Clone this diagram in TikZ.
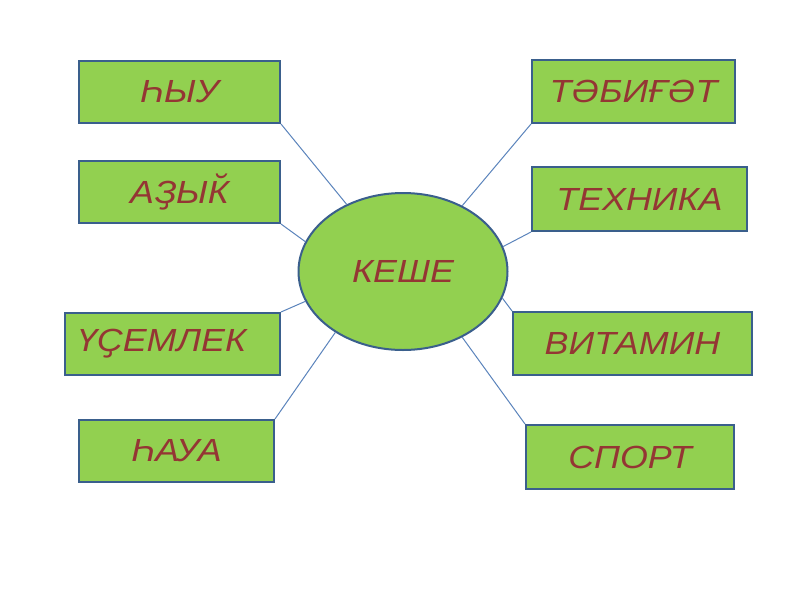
\documentclass[tikz,border=0pt]{standalone}
\usepackage{fontspec}
\setmainfont{Liberation Sans}[FakeStretch=1.12]
\usetikzlibrary{shapes.geometric}
\definecolor{leaf}{HTML}{92D050}
\definecolor{frame}{HTML}{3A5F8C}
\definecolor{wire}{HTML}{5B84BC}
\definecolor{wine}{HTML}{943634}
\tikzset{
  word/.style={draw=frame, line width=2pt, fill=leaf, text=wine,
    font=\fontsize{32}{36}\selectfont\itshape, inner sep=0pt},
  wire/.style={draw=wire, line width=1pt}
}
\begin{document}
\begin{tikzpicture}[x=1pt, y=-1pt]
    \fill[white] (0,0) rectangle (800,600);
    \useasboundingbox (0,0) rectangle (800,600);
    % Centre
    \node[word, ellipse, minimum width=209pt, minimum height=157pt] (keshe) at (403,271.5) {КЕШЕ};
    % Left boxes
    \node[word, minimum width=201pt, minimum height=62pt] (hyu) at (179.5,92) {ҺЫУ};
    \node[word, minimum width=201pt, minimum height=62pt] (azyk) at (179.5,192) {АҘЫ\accent"02D8 К};
    \node[word, minimum height=62pt, text width=191pt, inner xsep=12pt, align=left] (useml) at (172.5,344) {ҮҪЕМЛЕК};
    \node[word, minimum width=195pt, minimum height=62pt] (haua) at (176.5,451) {ҺАУА};
    % Right boxes
    \node[word, minimum width=203pt, minimum height=63pt] (tabigat) at (633.5,91.5) {ТӘБИҒӘТ};
    \node[word, minimum width=215pt, minimum height=64pt] (tehnika) at (639.5,199) {ТЕХНИКА};
    \node[word, minimum width=239pt, minimum height=63pt] (vitamin) at (632.5,343.5) {ВИТАМИН};
    \node[word, minimum width=208pt, minimum height=64pt] (sport) at (630,457) {СПОРТ};
    % Connectors
    \draw[wire] (hyu.south east) -- (keshe.130);
    \draw[wire] (azyk.south east) -- (keshe.163);
    \draw[wire] (useml.north east) -- (keshe.197);
    \draw[wire] (haua.north east) -- (keshe.222);
    \draw[wire] (tabigat.south west) -- (keshe.48);
    \draw[wire] (tehnika.south west) -- (keshe.14);
    \draw[wire] (vitamin.north west) -- (keshe.345);
    \draw[wire] (sport.north west) -- (keshe.312);
\end{tikzpicture}
\end{document}
